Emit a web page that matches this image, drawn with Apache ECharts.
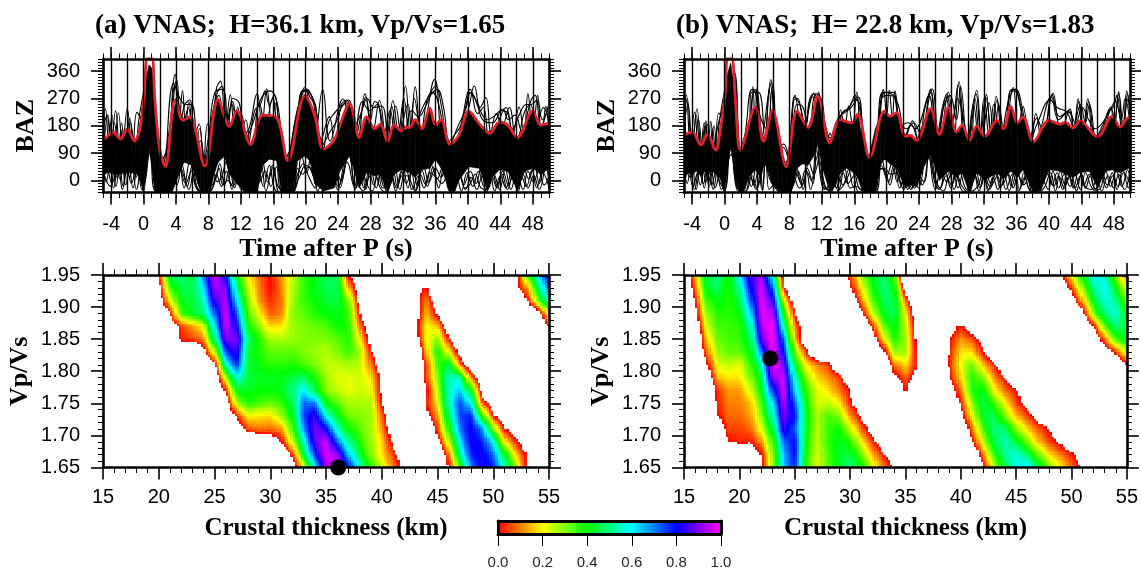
<!DOCTYPE html>
<html>
<head>
<meta charset="utf-8">
<script src="https://cdn.jsdelivr.net/npm/echarts@6/dist/echarts.min.js"></script>
<style>
html,body{margin:0;padding:0;background:#fff}
#main{width:1141px;height:571px}
</style>
</head>
<body>
<div id="main"></div>
<script>
// ---- tick labels
const timeMajor = [-4,0,4,8,12,16,20,24,28,32,36,40,44,48]
const timeLines = [-4,-2,0,2,4,6,8,10,12,14,16,18,20,22,24,26,28,30,32,34,36,38,40,42,44,46,48]
const bazMajor = [0,90,180,270,360]

// ---- red summary trace, panel a / b
const redTimeA = [-5,-4.76,-3.75,-2.84,-2,-1.15,-.45,.03,.5,1,1.4,2,2.7,3.9,4.9,5.7,7.55,9.2,10.6,11.5,13.2,14.7,16.4,17.8,19.9,21.1,22.2,23.5,24.2,25.4,26.6,27.5,28.5,29.2,30.1,30.9,31.8,32.2,32.8,33.5,34.3,35.3,36,36.7,37.8,38.9,40.1,41.4,42.7,43.9,44.9,46.1,48,49,49.8,50]
const redBazA = [135,138,158,136,170,130,169,264,405,405,264,100,45,264,198,209,47,267,178,230,119,215,207,65,280,214,103,133,181,253,141,209,171,185,127,184,162,176,174,200,170,238,182,200,119,149,228,187,155,193,182,141,228,182,187,186]
const redTimeB = [-5,-4.7,-4,-2.9,-2.1,-1.1,-.58,.04,.4,.85,1.35,1.97,3.8,4.8,5.9,7.6,8.95,10.3,11.5,13,14.2,15.7,16.4,17.9,19.7,20.4,21.2,22.3,22.9,23.7,25.4,26.5,27.6,28.6,29.3,30.2,31.1,32.1,33.6,34.4,35.3,36.1,36.8,38.1,40,41.4,42,43,43.8,46,47.8,48.8,49.8,50]
const redBazB = [150,152,160,116,152,100,155,275,405,405,264,100,242,129,230,45,228,174,277,123,200,189,218,75,228,211,223,145,148,132,236,152,240,160,181,132,179,145,198,170,244,189,209,127,198,185,191,173,196,144,211,176,206,205]

// ---- solid part of the trace bundle: time, upper edge, lower edge
const bandTimeA = [-5,-4.5,-4,-3.5,-3,-2.5,-2,-1.5,-1,-.5,0,.3,.7,1,1.4,2,2.7,3.5,4,4.5,5,5.5,6,7,7.5,8.2,8.7,9.2,10,10.6,11.5,12.5,13.2,14,14.7,15.5,16.4,17,17.8,18.5,19,19.9,20.5,21.1,22.2,23.5,24.2,25.4,26,26.6,27.5,28.5,29.2,30.1,30.9,31.8,32.8,33.5,34.3,35.3,36,36.7,37.8,38.3,38.9,40.1,41.4,42.4,43,43.9,44.9,46.1,47,48,49,50]
const bandTopA = [135,145,155,150,135,150,165,145,130,165,262,340,380,370,264,100,45,190,270,225,200,210,190,90,48,130,230,268,225,180,230,170,120,180,215,210,207,130,65,170,240,280,250,215,103,133,180,253,190,141,205,170,185,127,184,162,174,200,170,238,182,200,119,125,149,228,187,160,165,193,182,141,185,228,182,187]
const bandLowA = [15,25,25,20,20,25,25,25,25,10,-40,40,100,50,-40,-40,-40,-40,-5,30,60,55,50,-35,-40,-40,20,60,80,20,-10,-40,-40,-40,50,70,65,-40,-40,-40,65,80,65,-10,-35,-25,30,80,30,-25,25,15,20,-40,20,35,25,10,35,40,70,40,-35,-40,0,45,40,-35,10,35,30,-30,30,40,20,40]
const bandTimeB = [-5,-4.5,-4,-3.5,-2.9,-2.5,-2.1,-1.5,-1.1,-.6,0,.3,.75,1.2,1.35,1.9,2.5,3,3.8,4.4,4.9,5.4,5.9,6.5,7.1,7.6,8.2,8.95,9.6,10.3,11,11.5,12.1,13,13.6,14.2,15,15.7,16.4,17,17.8,18.6,19.2,19.7,20.4,21.2,22.3,22.9,23.7,24.5,25.4,26,26.5,27.6,28.6,29.3,30.2,31.1,32.1,33.6,34.4,35.3,36.1,36.8,38.1,39,40,41.4,42,43,43.8,45,46,47,47.8,48.8,49.8,50]
const bandTopB = [150,155,160,135,116,135,152,120,100,150,275,345,385,300,264,100,150,190,242,165,135,190,230,170,90,45,150,230,205,174,230,277,220,123,160,200,195,189,218,140,75,170,210,228,211,223,145,148,132,190,236,190,152,240,160,181,132,179,145,198,170,244,189,209,127,160,198,185,191,173,196,170,144,185,211,176,206,205]
const bandLowB = [15,25,20,30,15,30,20,30,20,10,-40,25,110,40,10,-40,-30,10,35,10,60,30,-10,-25,-40,-40,-40,40,55,50,80,120,40,-40,-20,20,40,30,10,-35,-40,-40,50,70,55,40,-25,-15,-20,40,85,40,0,30,10,25,-40,25,0,25,5,30,10,35,-40,-30,35,30,20,10,25,30,-25,30,35,25,40,35]

// ---- individual traces sticking out of the bundle (time, baz, time, baz ...)
const tracesA = [
  [-5,120,-4.7,236,-4.1,60,-3.45,229,-2.8,40,-2,236,-1.4,70,-.8,225,-.2,200,.8,365,1.7,60,2.6,-20,3.9,350,4.4,190,4.8,296,5.2,180,5.6,258,6.2,140,6.85,186,7.4,60,7.9,186,8.4,150,9,305,9.5,327,10.1,170,10.7,282,11.2,170,11.6,242,12.3,150,13,170,14,285,14.6,190,15.2,302,15.8,200,16.3,254,17.2,60,18.3,120,19.9,307,21,120,22.1,299,23,130,24.6,269,25.4,180,26.3,130,27.3,285,28.2,150,29.1,263,30,100,30.75,263,31.5,140,32.3,312,32.9,150,33.5,308,34.3,140,35.9,333,37.2,120,38.9,170,40,230,40.8,311,41.5,240,42.2,273,43,150,44.7,240,45.5,150,46.3,242,46.9,150,47.4,285,48,150,48.6,280,49.1,130,49.6,244,50,150],
  [-5,60,-4.4,215,-3.8,30,-3.1,222,-2.4,30,-1.7,205,-1.1,40,-.5,215,.7,345,1.5,130,2.3,-40,3.7,320,4.5,270,5.2,250,5.9,250,6.6,120,7.2,40,8,140,8.8,290,9.8,300,10.4,150,11,270,11.8,255,12.5,130,13.5,190,14.5,270,15.6,295,16.6,240,17.5,40,18.6,60,19.6,295,20.4,290,21.2,240,22,70,22.8,190,23.8,230,25,265,26,180,26.8,220,27.6,270,28.4,240,29.4,245,30.3,80,31.1,245,32,130,33.1,230,33.9,210,34.8,245,35.4,280,36.2,300,37,240,37.8,100,38.6,130,39.6,230,40.4,290,41,260,42,195,43,190,44.3,235,45,200,45.8,215,46.6,165,47.8,265,48.3,280,49,180,49.9,245],
  [-5,230,-4.5,40,-3.9,215,-3.3,10,-2.7,190,-2.2,20,-1.5,170,-.9,10,-.2,230,.9,340,1.9,-10,3.2,170,3.9,310,4.9,190,5.5,240,6.3,50,6.9,170,7.7,-10,8.5,220,9.3,280,10,170,10.9,250,11.7,120,12.6,200,13.3,60,14.3,255,15,180,15.9,270,16.7,100,18,-20,19.3,280,20.1,300,20.9,260,21.8,130,22.9,210,23.6,100,24.3,240,25.1,255,25.9,100,27,260,27.9,230,28.8,250,29.6,150,30.4,230,31.2,110,32.6,250,33.2,120,34.1,220,35,270,35.6,290,36.5,240,37.4,80,38.4,60,39.3,200,40.3,300,41.2,220,41.9,240,42.6,130,43.5,220,44.2,180,45.1,240,46,110,46.9,220,47.7,250,48.4,170,49.3,240,50,190],
  [-5,170,-4.5,215,-4,80,-3.6,190,-3,90,-2.6,170,-2.1,80,-1.6,190,-1,90,-.4,190,.6,350,1.3,240,2,60,3,110,4.1,330,4.6,200,5.1,250,5.7,265,6.4,120,7,130,7.6,30,8.3,180,9.1,290,9.7,310,10.3,190,11,260,11.5,200,12,220,12.8,110,13.7,230,14.4,250,15,295,15.5,250,16.1,280,16.7,180,17.6,20,18.7,200,19.4,270,20,300,20.6,270,21.2,250,21.9,110,23,160,23.9,200,24.4,240,25.3,265,26.1,140,27,240,27.4,275,28,200,28.5,260,29,250,29.9,130,30.6,245,31.3,130,32.1,270,32.8,140,33.4,270,34.2,160,34.9,260,35.4,290,36,310,36.7,250,37.6,110,38.8,180,39.8,240,40.2,290,40.9,270,41.7,220,42.4,200,43.4,215,44.1,230,44.8,225,45.5,170,46.4,220,47.2,250,47.8,250,48.5,265,49.2,200,49.8,230],
  [-5,60,-4.6,-5,-4,100,-3.4,-20,-2.8,100,-2.2,-15,-1.6,90,-.9,-30,-.2,120,.3,260,.8,115,1.3,260,2,-30,3,30,3.7,-20,4.4,60,5,-25,5.7,60,6.4,-10,7.1,-35,8,-30,8.6,30,9.1,-5,9.6,10,10.2,60,10.9,-30,11.6,60,12.2,-10,13,60,13.7,-30,14.5,50,15.1,-35,15.9,50,16.6,-20,17.6,-40,18.7,-30,19.5,80,20.1,25,20.7,90,21.3,-10,22,60,22.7,-30,23.3,50,23.9,-30,25.2,100,26.2,-25,26.9,40,27.4,-30,28,40,28.7,-25,29.3,40,30,-40,30.8,30,31.3,-20,32,40,32.6,-25,33.2,50,33.8,-20,34.5,50,35.2,-5,36,40,36.7,10,37.3,60,38,-45,38.8,50,39.5,-15,40.3,30,41,-10,41.6,40,42.3,-40,43,30,43.6,-15,44.3,30,45,-15,45.6,20,46.2,-35,46.9,40,47.5,5,48.2,50,48.8,-10,49.5,60,50,10],
  [-5,-5,-4.3,70,-3.7,-25,-3.1,80,-2.5,-20,-1.9,80,-1.3,-25,-.6,80,0,-40,.7,160,1.7,-30,2.4,-40,3.3,20,4.1,-15,4.7,55,5.4,-20,6,50,6.7,-30,7.5,-40,8.3,-35,9,20,9.6,-20,10.2,30,10.8,-15,11.4,40,12,-30,12.7,50,13.4,-25,14.1,40,14.8,-20,15.5,50,16.2,-30,17,-40,18.4,-40,19,40,19.6,20,20.3,45,21,10,21.6,-20,22.4,50,23,-20,23.7,40,24.3,0,25.5,130,26.4,-5,27.1,-35,27.8,30,28.4,-15,29,30,29.7,-20,30.5,10,31.1,-35,31.8,30,32.4,-10,33,25,33.6,-35,34.3,35,35,-20,35.7,45,36.4,-25,37,40,37.9,-40,38.6,10,39.2,-35,39.9,25,40.6,-20,41.3,30,42,-20,42.7,25,43.3,-35,44,15,44.7,-25,45.4,30,46,-20,46.6,10,47.2,-20,47.9,35,48.5,-25,49.2,25,50,-25],
  [-5,30,-4.1,-20,-3.5,60,-2.9,5,-2.3,65,-1.7,10,-1.2,70,-.5,5,.05,-10,.8,130,1.5,-20,2.6,-30,3.5,-10,4.2,70,4.9,20,5.6,-30,6.3,45,7,-20,8.1,-20,8.9,5,9.4,55,10,-15,10.6,40,11.2,-25,11.9,45,12.5,-30,13.2,20,13.9,-5,14.6,70,15.3,-5,16,45,16.8,-40,18,-40,19.2,10,20,50,20.8,30,21.5,-35,22.2,40,22.8,-5,23.5,55,24.2,-25,25.3,95,26.1,-30,26.8,50,27.5,-10,28.2,-35,28.9,35,29.5,-25,30.3,-20,31,40,31.6,-30,32.3,35,32.9,0,33.5,-35,34.1,20,34.8,-15,35.5,50,36.2,5,36.9,45,37.6,-30,38.2,-40,38.9,30,39.7,-30,40.4,10,41.1,-30,41.8,15,42.5,-25,43.2,20,43.9,-30,44.6,35,45.3,-30,46,25,46.8,-30,47.4,30,48.1,-5,48.7,30,49.4,-15,50,15],
  [-5,-15,-4.5,40,-3.9,-10,-3.2,45,-2.6,-30,-2.1,55,-1.5,-10,-.8,50,-.2,-30,.8,90,1.5,-35,2.8,-35,3.6,-25,4.4,40,5.2,-10,5.9,30,6.5,-25,7.3,-40,8.4,-30,9.3,40,9.8,-15,10.4,0,11,-20,11.7,25,12.4,-25,13,40,13.6,-15,14.3,-5,15,30,15.7,-20,16.4,45,17,-35,18.2,-40,19,20,19.7,55,20.4,10,21.2,-25,21.8,45,22.5,-20,23.2,20,24,-20,25.1,60,26,-20,26.6,30,27.2,-25,27.9,15,28.5,20,29.2,-25,30,-40,30.6,15,31.2,-25,31.9,15,32.5,15,33.1,-30,33.9,15,34.6,-25,35.3,25,36.1,10,36.8,-10,37.5,20,38.1,-40,39,25,39.6,-25,40.2,-15,40.9,20,41.6,-25,42.2,-30,42.9,15,43.6,-25,44.2,20,44.9,-30,45.5,15,46.1,-30,46.8,20,47.4,-25,48.1,15,48.8,-30,49.6,40,50,-15]
]
const tracesB = [
  [-5,100,-4.7,282,-4.1,70,-3.4,236,-2.8,60,-2.3,196,-2,90,-1.7,195,-1.2,60,-.7,222,0,200,1.2,357,2,40,2.8,170,3.1,100,3.5,310,3.8,160,4,306,4.8,100,5.7,332,6.5,100,7.3,120,7.9,80,8.7,280,9.6,170,11,288,11.3,200,11.6,291,12.6,90,13,155,13.6,120,14.3,232,14.8,170,15.3,245,15.8,180,16.3,291,17.2,70,18.4,70,19.6,299,20,210,20.3,297,20.7,210,21,295,22,110,23.2,196,24,110,25.6,302,26.5,110,27.6,291,28.3,140,28.9,326,29.9,80,31.1,297,31.7,130,32.3,284,32.9,120,33.5,277,34.4,120,35.6,306,36.2,170,36.8,244,37.7,90,38.4,220,39.2,120,40.5,286,41.5,160,42.6,236,43.1,150,43.6,269,44.2,150,44.8,269,45.6,130,46.6,180,47.6,240,48,150,48.6,293,49.1,150,49.6,295,50,200],
  [-5,280,-4.4,60,-3.7,225,-3.1,40,-2.5,190,-1.9,50,-1.3,180,-.8,60,-.2,210,.9,345,1.8,20,3,160,3.3,290,4.2,290,5,130,5.5,300,6.2,70,7.5,60,8.5,260,9,270,9.9,170,10.8,275,11.9,270,12.7,70,13.7,140,14.5,220,15.2,235,16,265,16.7,250,17.7,30,18.8,120,19.4,270,20.1,280,20.9,275,21.7,180,22.6,190,23.5,170,25.2,280,26,130,27.3,275,28,180,28.7,270,29.5,200,30.3,60,30.9,270,31.6,130,32.6,255,33.3,130,33.8,250,34.6,130,35.3,296,36,290,36.6,230,37.4,110,38.6,190,40.2,265,41,240,42.2,225,43,180,43.9,250,44.5,190,45,250,46,100,47.2,220,47.9,240,48.4,280,49,170,49.8,270,50,240],
  [-5,180,-4.5,250,-3.9,50,-3.2,200,-2.6,30,-2.1,185,-1.5,40,-.9,170,-.3,230,.7,330,1.4,60,2.4,-20,3.7,295,4.4,210,5.2,170,5.9,310,6.8,40,8,20,8.9,250,9.7,240,10.4,140,11.2,280,12,230,12.9,130,14,205,14.9,225,15.6,240,16.5,275,17.3,30,18.2,-10,19.2,250,19.8,290,20.6,285,21.4,250,22.3,150,23,185,23.9,130,24.8,250,25.4,290,26.2,120,27,240,27.8,280,28.6,200,29.1,310,30,100,30.7,250,31.4,120,32,270,32.7,130,33.2,250,34,140,35,260,35.8,300,36.5,240,37.2,140,38.2,90,39,170,40.3,275,41.2,200,42.4,225,43.3,190,44.1,240,44.9,200,45.7,170,46.9,200,47.5,230,48.2,260,48.9,200,49.4,270,50,180],
  [-5,200,-4.6,270,-4,60,-3.5,215,-2.9,90,-2.4,180,-1.8,100,-1.5,170,-1,70,-.6,200,.5,340,1.1,350,2,60,2.6,165,3.4,300,3.9,295,4.6,150,5.4,280,5.8,325,6.6,90,7.2,110,8,60,8.6,275,9.2,255,10,180,10.7,280,11.4,285,12.3,190,13,140,13.9,190,14.6,225,15.4,240,16.1,280,16.7,230,17.5,60,18.5,100,19.5,290,20.2,290,20.8,290,21.5,200,22.5,170,23.3,190,24.2,150,25.4,300,26.3,140,27.4,285,28.1,190,28.8,315,29.7,100,31,285,31.6,150,32.2,275,33,150,33.6,265,34.5,150,35.4,300,35.9,300,36.7,240,37.5,120,38.5,205,39.3,160,40.4,280,41.3,210,42.5,230,43,170,43.7,260,44.3,170,44.9,260,45.8,140,47,190,47.7,235,48.1,200,48.6,285,49.2,170,49.7,285,50,220],
  [-5,40,-4.6,-10,-4.1,90,-3.5,-30,-2.9,80,-2.3,-5,-1.8,85,-1.2,-25,-.4,90,.2,260,.75,100,1.3,260,2,-30,2.7,20,3.3,-20,4,70,4.6,-30,5.2,130,5.8,-5,6.6,-30,7.5,-40,8.3,-25,8.9,40,9.5,-15,10.1,25,10.6,-30,11.5,80,12.5,-25,13.2,-35,13.9,20,14.6,-15,15.3,35,15.9,-20,16.6,20,17.4,-40,18.6,-40,19.4,70,20,15,20.7,60,21.3,-5,21.9,30,22.6,-30,23.2,30,23.9,-25,25,95,26,-30,26.7,35,27.4,-5,28.1,30,28.8,-25,29.5,40,30.2,-40,31,30,31.6,-20,32.2,35,32.8,-10,33.4,30,34,-25,34.8,30,35.4,-20,36.1,30,36.7,-15,37.3,30,38,-40,39,-30,39.8,40,40.4,-15,41,25,41.7,-30,42.3,30,43,-25,43.7,35,44.3,-15,45,20,45.6,-25,46.2,-30,47,30,47.6,-20,48.3,30,49,-20,49.7,35,50,-5],
  [-5,-20,-4.3,45,-3.7,-30,-3.1,50,-2.5,-25,-2,60,-1.4,-30,-.7,60,0,-40,.75,125,1.7,-35,2.3,-30,3,40,3.6,-15,4.3,55,4.7,-35,5.1,100,5.5,-30,6.2,-15,7,-40,8,-40,8.6,10,9.2,-25,9.8,-5,10.4,60,11,20,11.8,90,12.3,-30,13.4,-10,14,-35,14.8,40,15.5,-25,16.2,-20,16.9,-30,18,-40,19.1,40,19.8,30,20.4,-15,21,45,21.6,-25,22.2,10,23,-30,23.7,20,24.4,-15,25.3,90,26.2,-10,27,-35,27.7,25,28.3,-30,29,30,29.7,-25,30.5,-35,31.3,-15,31.9,30,32.5,-35,33.1,10,33.7,-30,34.4,25,35.1,-35,35.8,35,36.4,-30,37,10,37.7,-35,38.4,-40,39.4,-25,40.2,25,40.8,-35,41.4,30,42,-15,42.7,20,43.4,-35,44,20,44.6,-25,45.3,-30,45.9,25,46.5,-35,47.3,15,48,-25,48.6,20,49.3,-30,50,30],
  [-5,65,-4.2,10,-3.6,60,-3,-15,-2.4,55,-1.9,-20,-1.3,50,-.6,-5,.05,-30,.75,145,1.6,-20,2.5,-40,3.2,10,3.9,-30,4.4,30,4.9,75,5.4,30,6,25,6.8,-35,7.8,-40,8.5,-15,9.1,30,9.7,-30,10.2,40,10.9,-10,11.4,130,12,-15,12.8,-30,13.5,30,14.2,-30,15,0,15.7,40,16.4,-35,17.2,-40,18.4,-40,19.3,50,20.2,-5,20.9,50,21.5,10,22.1,-30,22.8,25,23.4,-25,24.1,10,25.1,110,25.9,-5,26.5,-30,27.2,30,27.9,-25,28.5,30,29.2,-30,30,-40,30.7,35,31.4,-35,32,20,32.6,-30,33.3,0,34,30,34.7,-30,35.5,20,36.3,-35,36.9,25,37.5,-25,38.3,-40,39.2,0,39.9,-30,40.5,30,41.2,-25,41.9,20,42.6,-20,43.2,20,43.9,-30,44.5,25,45.2,-20,45.8,-35,46.4,20,47.1,-25,47.8,25,48.4,-30,49.1,35,49.8,-25,50,0],
  [-5,20,-4.5,45,-3.9,-20,-3.2,30,-2.6,-10,-2.2,40,-1.6,-15,-1,35,-.4,-30,.8,85,1.6,-25,2.6,-35,3.4,15,4,-25,4.5,15,5,60,5.5,10,6.1,-20,7,-40,8.1,-35,8.8,25,9.4,-5,10,35,10.7,0,11.3,100,11.9,20,12.6,-30,13.3,20,13.8,-25,14.6,25,15.2,-10,16,15,16.7,-30,18,-40,19,30,19.7,40,20.5,20,21.2,25,21.8,-15,22.4,15,23.1,-25,23.8,15,24.6,-5,25.2,80,25.9,10,26.6,-25,27.3,15,28,-15,28.6,20,29.3,-20,30.1,-40,30.9,15,31.5,-25,32.1,15,32.7,-20,33.5,20,34.2,-15,35,20,35.6,-25,36.2,15,36.9,-15,37.6,15,38.2,-40,39.1,-15,39.9,20,40.6,-20,41.2,15,41.9,-25,42.5,15,43.2,-25,43.9,15,44.5,-25,45.1,15,45.7,-30,46.6,25,47.2,-15,47.9,15,48.5,-20,49.2,25,50,-15]
]

// ---- stacking amplitude read per row: [vpvs, [first km, values...], ...]; anything not listed is blank
const heatRowsA = [
  [1.95,[20,.02,.45,.52,.42,.7,.97,.8,.4,.2,.08,.01,.12,.25,.36,.42,.46,.48,.0,-.1],[52,-.1,.33,.6,.85]],
  [1.93,[20,-.05,.35,.46,.45,.62,.93,.9,.5,.25,.1,.0,.1,.27,.36,.42,.46,.47,.15,-.1],[43,-.05,.02,-.2],[52,-.05,.12,.45,.75]],
  [1.91,[20,-.1,.2,.42,.44,.55,.85,.95,.6,.3,.12,.03,.09,.28,.36,.4,.44,.45,.32,-.05],[43,-.05,.1,-.1],[53,-.02,.3,.6]],
  [1.89,[21,0,.35,.42,.5,.72,.97,.72,.35,.2,.07,.1,.3,.33,.38,.4,.42,.36,.02,-.2],[43,-.1,.15,-.03],[54,-.1,.25]],
  [1.87,[21,-.1,.05,.12,.22,.62,.97,.8,.42,.28,.17,.18,.28,.3,.32,.34,.4,.38,.1,-.1],[43,-.05,.2,.15,-.1],[54,-.25,.05]],
  [1.85,[22,.02,.05,.1,.5,.9,.9,.5,.37,.27,.27,.28,.3,.3,.3,.33,.38,.2,-.05],[43,-.1,.2,.3,.02,-.2]],
  [1.83,[24,-.05,.25,.75,.85,.45,.38,.33,.33,.33,.3,.28,.26,.3,.35,.28,.03,-.2],[43,-.2,.15,.4,.2,-.05]],
  [1.81,[25,-.02,.55,.78,.45,.4,.37,.37,.38,.35,.3,.25,.25,.27,.25,.1,-.1],[43,-.2,.05,.35,.45,.1,-.15]],
  [1.79,[25,-.15,.25,.58,.45,.42,.42,.42,.45,.48,.38,.28,.22,.22,.24,.18,-.03],[43,-.2,.05,.3,.55,.55,.1,-.1]],
  [1.77,[26,.02,.42,.42,.4,.4,.42,.5,.62,.45,.3,.25,.22,.24,.22,-.03],[44,-.02,.25,.55,.65,.42,-.05]],
  [1.75,[26,-.1,.28,.38,.35,.32,.36,.46,.72,.7,.42,.33,.27,.27,.27,-.0],[44,.02,.2,.55,.75,.6,.08,-.1]],
  [1.73,[27,.02,.2,.18,.17,.28,.42,.75,.85,.6,.42,.32,.3,.28,.08,-.15],[44,-.05,.12,.48,.75,.78,.4,.02,-.1]],
  [1.71,[27,-.1,.06,.1,.08,.12,.35,.68,.9,.82,.55,.4,.33,.27,.12,-.1],[44,-.15,.05,.38,.7,.82,.7,.3,.02,-.1]],
  [1.69,[30,-.1,.0,.25,.55,.88,.97,.72,.52,.38,.28,.17,-.02],[45,-.05,.25,.6,.82,.78,.6,.2,.03,-.1]],
  [1.67,[31,-.2,.05,.42,.78,.98,.92,.65,.45,.3,.18,.05,-.1],[45,-.25,.1,.5,.78,.82,.72,.45,.17,-.0]],
  [1.65,[32,-.1,.2,.6,.92,1,.8,.58,.38,.25,.1,-.05],[45,-.1,.0,.33,.7,.82,.78,.55,.3,.0]]
]
const heatRowsB = [
  [1.95,[16,.15,.45,.5,.4,.6,.85,.93,.58,-.05],[29,-.2,.05,.28,.42,.5,.35,-.3],[49,-.02,.2,.42,.6,.55,.3,.08]],
  [1.93,[16,.08,.42,.48,.38,.52,.8,.98,.72,.02],[30,-.02,.2,.38,.5,.42,-.1],[49,-.15,.05,.3,.52,.6,.42,.2]],
  [1.91,[16,.0,.35,.42,.38,.45,.72,.99,.85,.25,-.1],[30,-.15,.1,.32,.47,.47,.1,-.2],[50,-.1,.15,.42,.58,.52,.32]],
  [1.89,[16,-.05,.28,.38,.37,.4,.62,.98,.95,.42,.0],[31,-.05,.22,.42,.47,.2,-.1],[51,-.05,.3,.5,.58,.42]],
  [1.87,[16,-.15,.22,.35,.36,.37,.52,.95,1,.55,.1,-.1],[32,.02,.32,.42,.25,-.05],[39,-.1,.03,-.1],[52,.0,.35,.5,.45]],
  [1.85,[17,.15,.32,.35,.36,.45,.88,1,.72,.15,-.15],[32,-.1,.18,.38,.28,-.03],[39,.0,.12,.06,-.05],[52,-.15,.1,.35,.42]],
  [1.83,[17,.07,.28,.32,.33,.4,.72,1,.8,.3,.05],[33,-.05,.28,.28,.0],[39,.02,.18,.18,.0,-.15],[53,-.1,.05,.25]],
  [1.81,[17,-.03,.22,.25,.22,.35,.55,1,.9,.42,.2,.1,.05,-.15],[33,-.25,.1,.18,.02],[39,.03,.22,.32,.15,.03,-.15],[54,-.2,.0]],
  [1.79,[17,-.15,.15,.18,.18,.3,.45,.92,.97,.55,.3,.17,.12,.05,-.1],[34,-.05,.08,-.05],[39,.0,.18,.38,.3,.12,.0,-.15]],
  [1.77,[18,.03,.12,.12,.22,.42,.75,.98,.62,.38,.22,.18,.1,.0,-.15],[35,.02],[39,-.1,.1,.38,.42,.22,.08,.02,-.1]],
  [1.75,[18,.02,.1,.1,.15,.35,.62,.95,.72,.42,.23,.25,.2,.02,-.1],[40,.03,.28,.47,.36,.2,.05,-.05]],
  [1.73,[18,-.01,.08,.08,.12,.3,.55,.9,.78,.45,.26,.35,.3,.12,-.02,-.15],[40,-.05,.2,.43,.47,.3,.15,.05,-.05]],
  [1.71,[18,-.1,.05,.05,.08,.22,.45,.85,.72,.45,.25,.36,.4,.25,.08,-.05],[41,.08,.35,.5,.48,.3,.17,.07,.0,-.1]],
  [1.69,[19,.0,.03,.01,.12,.36,.72,.8,.42,.24,.36,.43,.38,.2,.05,-.1],[41,-.02,.25,.45,.55,.45,.3,.15,.05,-.03,-.1]],
  [1.67,[21,-.1,.0,.3,.65,.8,.4,.23,.34,.43,.45,.32,.15,.02,-.1],[42,.1,.35,.52,.58,.48,.32,.18,.1,.02,-.05]],
  [1.65,[21,-.2,-.02,.28,.65,.78,.38,.22,.33,.43,.5,.42,.25,.1,-.02,-.1],[42,-.03,.25,.45,.58,.62,.48,.3,.2,.08,-.02]]
]
const bestA = [36.1, 1.65]
const bestB = [22.8, 1.82]

// ---- colour scale
const rainbowStops = [0,.2,.4,.6,.8,1]
const rainbowRGB = [[255,0,0],[255,255,0],[0,255,0],[0,255,255],[0,0,255],[255,0,255]]

const serif = 'Liberation Serif'
const sans = 'Liberation Sans'

function rainbow(v) {
  let i = Math.min(Math.floor(v * 5), 4)
  let f = (v - rainbowStops[i]) / .2
  let a = rainbowRGB[i], b = rainbowRGB[i + 1]
  return `rgb(${Math.round(a[0] + (b[0] - a[0]) * f)},${Math.round(a[1] + (b[1] - a[1]) * f)},${Math.round(a[2] + (b[2] - a[2]) * f)})`
}

function pairs(flat) {
  let out = []
  for (let i = 0; i < flat.length; i += 2) out.push([flat[i], flat[i + 1]])
  return out
}

// rows -> node lookup keyed by km and row index, blank nodes stay slightly negative
function nodeTable(rows) {
  return rows.map(r => {
    let vals = new Array(41).fill(-.2)
    r.slice(1).forEach(seg => seg.slice(1).forEach((v, k) => { vals[seg[0] - 15 + k] = v }))
    return vals
  })
}

function heatSeries(rows, xi, yi) {
  const table = nodeTable(rows)
  const sub = 5
  let cells = []
  for (let r = 0; r < rows.length - 1; r++) {
    for (let c = 0; c < 40; c++) {
      if (Math.max(table[r][c], table[r][c + 1], table[r + 1][c], table[r + 1][c + 1]) >= 0) {
        cells.push([15 + c, rows[r][0], table[r][c], r])
      }
    }
  }
  return {
    type: 'custom', xAxisIndex: xi, yAxisIndex: yi, silent: true, animation: false, clip: true, z: 1,
    data: cells,
    renderItem(params, api) {
      const km = api.value(0), r = api.value(3), c = km - 15
      const y0 = rows[r][0], y1 = rows[r + 1][0]
      const q = [table[r][c], table[r][c + 1], table[r + 1][c], table[r + 1][c + 1]]
      let kids = []
      for (let i = 0; i < sub; i++) {
        for (let j = 0; j < sub; j++) {
          const u = (i + .5) / sub, w = (j + .5) / sub
          const v = q[0] * (1 - u) * (1 - w) + q[1] * u * (1 - w) + q[2] * (1 - u) * w + q[3] * u * w
          if (v < 0) continue
          const p0 = api.coord([km + i / sub, y0 + (y1 - y0) * j / sub])
          const p1 = api.coord([km + (i + 1) / sub, y0 + (y1 - y0) * (j + 1) / sub])
          const x = Math.round(p0[0]), y = Math.round(p0[1])
          kids.push({
            type: 'rect',
            shape: {x: x, y: y, width: Math.round(p1[0]) - x, height: Math.round(p1[1]) - y},
            style: {fill: rainbow(Math.min(v, 1))}
          })
        }
      }
      return {type: 'group', children: kids}
    }
  }
}

let grids = [], xAxes = [], yAxes = [], series = []

const frameLine = {show: true, onZero: false, lineStyle: {color: '#000', width: 2.6}}
const noLine = {show: false, onZero: false}

// four axes round a grid, returns indices of the first x and y
function addAxes(rect, xOpt, yOpt, labelsX, labelsY) {
  const g = grids.length
  grids.push(Object.assign({containLabel: false}, rect))
  const xi = xAxes.length, yi = yAxes.length
  xAxes.push(Object.assign({gridIndex: g, type: 'value', position: 'bottom', splitLine: {show: false}, z: 6}, xOpt, {axisLabel: labelsX}))
  xAxes.push(Object.assign({gridIndex: g, type: 'value', position: 'top', splitLine: {show: false}, axisLabel: {show: false}, z: 6}, xOpt, {name: ''}))
  yAxes.push(Object.assign({gridIndex: g, type: 'value', position: 'left', splitLine: {show: false}, z: 6}, yOpt, {axisLabel: labelsY}))
  yAxes.push(Object.assign({gridIndex: g, type: 'value', position: 'right', splitLine: {show: false}, axisLabel: {show: false}, z: 6}, yOpt, {name: ''}))
  return [xi, yi]
}

function wavePanel(left, redT, redB, bandT, bandTop, bandLow, traces) {
  const rect = {left: left, top: 59, width: 446, height: 133.5}
  // minor ticks only
  addAxes(rect,
    {min: -5, max: 50, interval: 1, axisLine: noLine, axisTick: {length: 5.5, lineStyle: {color: '#000', width: 1}}},
    {min: -40, max: 400, interval: 10, axisLine: noLine, axisTick: {length: 5, lineStyle: {color: '#000', width: 1}}},
    {show: false}, {show: false})
  // frame, long ticks, labels
  const [xi, yi] = addAxes(rect,
    {min: -5, max: 50, axisLine: frameLine, axisTick: {customValues: timeMajor, length: 12, lineStyle: {color: '#000', width: 1.6}},
      name: 'Time after P (s)', nameLocation: 'middle', nameGap: 44,
      nameTextStyle: {fontFamily: serif, fontWeight: 'bold', fontSize: 26, color: '#000'}},
    {min: -40, max: 400, axisLine: frameLine, axisTick: {customValues: bazMajor, length: 12, lineStyle: {color: '#000', width: 1.6}},
      name: 'BAZ', nameLocation: 'middle', nameGap: 64,
      nameTextStyle: {fontFamily: serif, fontWeight: 'bold', fontSize: 26, color: '#000'}},
    {customValues: timeMajor, margin: 22, fontFamily: sans, fontSize: 20, color: '#000', hideOverlap: false},
    {customValues: bazMajor, margin: 23, fontFamily: sans, fontSize: 20, color: '#000', hideOverlap: false})

  // solid bundle between lower and upper edge
  series.push({
    type: 'custom', xAxisIndex: xi, yAxisIndex: yi, silent: true, animation: false, clip: true, z: 2,
    data: bandT.slice(0, -1).map((t, i) => [t, bandLow[i], bandTop[i], bandT[i + 1], bandLow[i + 1], bandTop[i + 1]]),
    renderItem(params, api) {
      const pts = [
        api.coord([api.value(0), api.value(1)]), api.coord([api.value(0), api.value(2)]),
        api.coord([api.value(3), api.value(5)]), api.coord([api.value(3), api.value(4)])
      ]
      return {type: 'polygon', shape: {points: pts}, style: {fill: '#000', stroke: '#000', lineWidth: .6}}
    }
  })
  traces.forEach((tr, k) => series.push({
    type: 'line', xAxisIndex: xi, yAxisIndex: yi, symbol: 'none', smooth: .45, animation: false, silent: true, z: 3,
    lineStyle: {color: '#000', width: 1.1}, data: pairs(tr),
    markLine: k > 0 ? undefined : {silent: true, symbol: 'none', animation: false, label: {show: false}, lineStyle: {color: '#000', width: 1.4, type: 'solid'},
      data: timeLines.map(t => ({xAxis: t}))}
  }))
  series.push({
    type: 'line', xAxisIndex: xi, yAxisIndex: yi, symbol: 'none', smooth: .35, animation: false, silent: true, z: 4,
    lineStyle: {color: '#e3202b', width: 2.8}, data: redT.map((t, i) => [t, redB[i]])
  })
}

function heatPanel(left, rows, best) {
  const rect = {left: left, top: 275, width: 446, height: 192.5}
  const [xi, yi] = addAxes(rect,
    {min: 15, max: 55, interval: 5, axisLine: frameLine,
      axisTick: {length: 12, lineStyle: {color: '#000', width: 1.6}},
      minorTick: {show: true, splitNumber: 5, length: 5.5, lineStyle: {color: '#000', width: 1}},
      name: 'Crustal thickness (km)', nameLocation: 'middle', nameGap: 49,
      nameTextStyle: {fontFamily: serif, fontWeight: 'bold', fontSize: 25, color: '#000'}},
    {min: 1.65, max: 1.95, interval: .05, axisLine: frameLine,
      axisTick: {length: 12, lineStyle: {color: '#000', width: 1.6}},
      minorTick: {show: true, splitNumber: 5, length: 5, lineStyle: {color: '#000', width: 1}},
      name: 'Vp/Vs', nameLocation: 'middle', nameGap: 70,
      nameTextStyle: {fontFamily: serif, fontWeight: 'bold', fontSize: 26, color: '#000'}},
    {margin: 20, fontFamily: sans, fontSize: 20, color: '#000', hideOverlap: false},
    {margin: 23, fontFamily: sans, fontSize: 20, color: '#000', formatter: v => v.toFixed(2), hideOverlap: false})
  series.push(heatSeries(rows, xi, yi))
  series.push({
    type: 'scatter', xAxisIndex: xi, yAxisIndex: yi, symbolSize: 16, animation: false, silent: true, z: 4, clip: true,
    itemStyle: {color: '#000', opacity: 1}, data: [best]
  })
}

wavePanel(103, redTimeA, redBazA, bandTimeA, bandTopA, bandLowA, tracesA)
wavePanel(684, redTimeB, redBazB, bandTimeB, bandTopB, bandLowB, tracesB)
heatPanel(103, heatRowsA, bestA)
heatPanel(684, heatRowsB, bestB)

// colour bar
{
  const [xi, yi] = addAxes({left: 498, top: 521, width: 223, height: 13},
    {min: 0, max: 1, interval: .2, axisLine: {show: true, onZero: false, lineStyle: {color: '#000', width: 3}},
      axisTick: {show: false}},
    {min: 0, max: 1, axisLine: {show: true, onZero: false, lineStyle: {color: '#000', width: 3}}, axisTick: {show: false}},
    {show: false}, {show: false})
  const barTicks = addAxes({left: 498, top: 521, width: 223, height: 13},
    {min: 0, max: 1, interval: .2, axisLine: noLine, axisTick: {length: 12, lineStyle: {color: '#000', width: 1}}},
    {min: 0, max: 1, axisLine: noLine, axisTick: {show: false}},
    {margin: 21, fontFamily: sans, fontSize: 15, color: '#262626', formatter: v => v.toFixed(1)}, {show: false})
  xAxes[barTicks[0] + 1].axisTick = {show: false}
  series.push({
    type: 'custom', xAxisIndex: xi, yAxisIndex: yi, silent: true, animation: false, z: 1, data: [[0, 0]],
    renderItem(params, api) {
      const a = api.coord([0, 1]), b = api.coord([1, 0])
      return {
        type: 'rect',
        shape: {x: a[0], y: a[1], width: b[0] - a[0], height: b[1] - a[1]},
        style: {fill: new echarts.graphic.LinearGradient(0, 0, 1, 0, rainbowStops.map((s, i) => ({offset: s, color: rainbow(s)})))}
      }
    }
  })
}

const chart = echarts.init(document.getElementById('main'), null, {renderer: 'canvas'})
chart.setOption({
  backgroundColor: '#fff',
  animation: false,
  title: [
    {text: '(a) VNAS;  H=36.1 km, Vp/Vs=1.65', left: 90, top: 8, textStyle: {fontFamily: serif, fontWeight: 'bold', fontSize: 27, color: '#000'}},
    {text: '(b) VNAS;  H= 22.8 km, Vp/Vs=1.83', left: 671, top: 8, textStyle: {fontFamily: serif, fontWeight: 'bold', fontSize: 27, color: '#000'}}
  ],
  grid: grids,
  xAxis: xAxes,
  yAxis: yAxes,
  series: series
})
</script>
</body>
</html>
